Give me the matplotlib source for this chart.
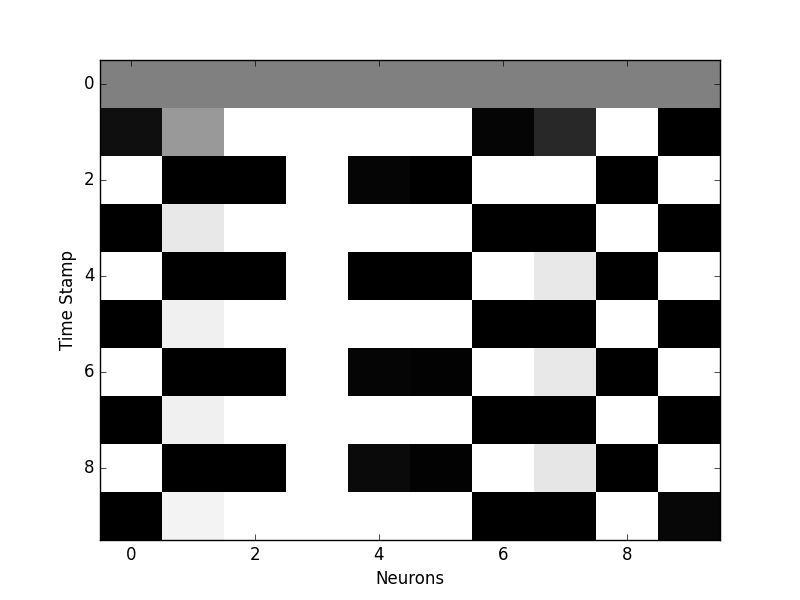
import matplotlib
matplotlib.use('Agg')
import matplotlib.pyplot as plt
import numpy as np

plt.style.use('classic')

# activaciones por paso de tiempo (filas) y neurona (columnas)
row0 = [0.5, 0.5, 0.5, 0.5, 0.5, 0.5, 0.5, 0.5, 0.5, 0.5]
row1 = [0.06, 0.6, 1, 1, 1, 1, 0.02, 0.16, 1, 0]
row2 = [1, 0, 0, 1, 0.02, 0, 1, 1, 0, 1]
row3 = [0, 0.91, 1, 1, 1, 1, 0, 0, 1, 0]
row4 = [1, 0, 0, 1, 0, 0, 1, 0.91, 0, 1]
row5 = [0, 0.94, 1, 1, 1, 1, 0, 0, 1, 0]
row6 = [1, 0, 0, 1, 0.02, 0.01, 1, 0.91, 0, 1]
row7 = [0, 0.94, 1, 1, 1, 1, 0, 0, 1, 0]
row8 = [1, 0, 0, 1, 0.04, 0.01, 1, 0.9, 0, 1]
row9 = [0, 0.95, 1, 1, 1, 1, 0, 0, 1, 0.03]

datos = np.array([row0, row1, row2, row3, row4, row5, row6, row7, row8, row9])

fig = plt.figure(figsize=(8, 6), dpi=100)
ax = fig.add_subplot(111)
ax.imshow(datos, cmap='gray', interpolation='nearest', aspect='auto', vmin=0, vmax=1)
ax.set_xlabel('Neurons')
ax.set_ylabel('Time Stamp')

fig.savefig('out.png', dpi=100)
